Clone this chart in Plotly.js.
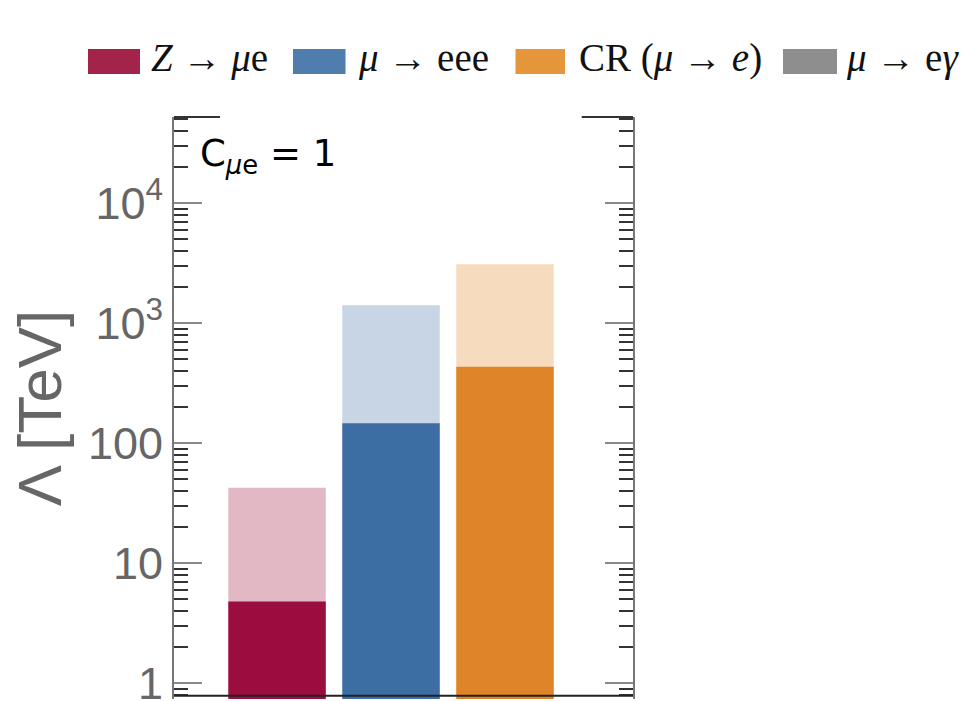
<!DOCTYPE html>
<html>
<head>
<meta charset="utf-8">
<script src="https://cdn.plot.ly/plotly-3.0.1.min.js"></script>
<style>html,body{margin:0;padding:0;background:#fff;}#chart{width:973px;height:701px;}</style>
</head>
<body>
<div id="chart"></div>
<script>
// ---- data ----
const categories = ["Z → μe", "μ → eee", "CR (μ → e)"];
const currentLimits = [4.8, 147, 435];     // dark bars (present bounds)
const futureLimits = [42.7, 1410, 3100];   // light bars (future sensitivity)
const darkColors = ["#9C0D3F", "#3C6EA3", "#E0842A"];
const lightColors = ["#E2B8C5", "#C8D5E4", "#F7DBBE"];
const legendNames = ["<i>Z</i> → <i>μ</i>e", "<i>μ</i> → eee", "CR (<i>μ</i> → <i>e</i>)", "<i>μ</i> → e<i>γ</i>"];
const legendColors = ["#A4234A", "#4F7DAD", "#E5953A", "#8E8E8E"];
const tickVals = [1, 10, 100, 1000, 10000];
const tickText = ["1", "10", "100", "10<sup>3</sup>", "10<sup>4</sup>"];
const minorTickVals = [0.8, 0.9,
  2, 3, 4, 5, 6, 7, 8, 9,
  20, 30, 40, 50, 60, 70, 80, 90,
  200, 300, 400, 500, 600, 700, 800, 900,
  2000, 3000, 4000, 5000, 6000, 7000, 8000, 9000,
  20000, 30000, 40000, 50000];

// ---- geometry helpers (pixel -> paper) ----
const W = 973, H = 701, L = 174, R = 633, T = 117, B = 699;
const px = x => (x - L) / (R - L);
const py = y => (B - y) / (B - T);

const xIdx = categories.map((c, i) => i);

const traces = [
  {type: "bar", x: xIdx, y: futureLimits, width: 0.855,
   marker: {color: lightColors, line: {width: 0}}, hoverinfo: "skip", showlegend: false},
  {type: "bar", x: xIdx, y: currentLimits, width: 0.855,
   marker: {color: darkColors, line: {width: 0}}, hoverinfo: "skip", showlegend: false}
];

const shapes = [
  // bottom axis line
  {type: "line", xref: "paper", yref: "paper", x0: 0, x1: 1, y0: py(695.7), y1: py(695.7), line: {color: "#222", width: 2}},
  // partial top frame
  {type: "line", xref: "paper", yref: "paper", x0: 0, x1: px(220), y0: 1, y1: 1, line: {color: "#333", width: 2}},
  {type: "line", xref: "paper", yref: "paper", x0: px(581.7), x1: 1, y0: 1, y1: 1, line: {color: "#333", width: 2}}
];
const annotations = [
  {xref: "paper", yref: "paper", x: px(198), y: py(156), xanchor: "left", yanchor: "middle", showarrow: false,
   text: "C<sub><i>μ</i>e</sub> = 1", font: {family: "DejaVu Sans, Liberation Sans, sans-serif", size: 37, color: "#000"}}
];

// custom legend
const swX = [[88, 140], [293, 345.5], [515.5, 565], [783, 837]];
const txX = [149, 356, 577, 844];
legendNames.forEach((name, i) => {
  shapes.push({type: "rect", xref: "paper", yref: "paper", x0: px(swX[i][0]), x1: px(swX[i][1]), y0: py(74), y1: py(49),
    fillcolor: legendColors[i], line: {width: 0}});
  annotations.push({xref: "paper", yref: "paper", x: px(txX[i]), y: py(58), xanchor: "left", yanchor: "middle",
    showarrow: false, text: name, font: {family: "Liberation Serif, Times New Roman, serif", size: 39, color: "#111"}});
});

const layout = {
  width: W, height: H,
  margin: {l: L, r: W - R, t: T, b: H - B, pad: 0},
  paper_bgcolor: "#fff", plot_bgcolor: "#fff",
  barmode: "overlay",
  showlegend: false,
  xaxis: {range: [-0.904, 3.123], showticklabels: false, ticks: "", showline: false, zeroline: false, showgrid: false, fixedrange: true},
  yaxis: {type: "log", range: [-0.131, 4.719], tickmode: "array", tickvals: tickVals, ticktext: tickText,
    ticks: "inside", ticklen: 28, tickwidth: 2, tickcolor: "#8a8a8a",
    ticklabeloverflow: "allow",
    minor: {tickmode: "array", tickvals: minorTickVals, ticks: "inside", ticklen: 14, tickwidth: 2, tickcolor: "#333", showgrid: false},
    showline: true, linecolor: "#777", linewidth: 2, mirror: "ticks",
    showgrid: false, zeroline: false,
    tickfont: {family: "Liberation Sans, Arial, sans-serif", size: 45, color: "#666"},
    title: {text: "Λ [TeV]", font: {family: "Liberation Sans, Arial, sans-serif", size: 62, color: "#666"}, standoff: 6},
    automargin: false, fixedrange: true},
  shapes: shapes,
  annotations: annotations
};

Plotly.newPlot("chart", traces, layout, {staticPlot: true, displayModeBar: false});
</script>
</body>
</html>
